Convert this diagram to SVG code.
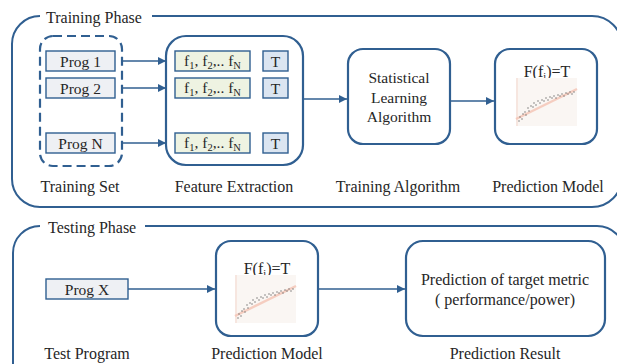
<svg xmlns="http://www.w3.org/2000/svg" width="617" height="364" viewBox="0 0 617 364">
<style>
text{font-family:'Liberation Serif','Times New Roman',serif;font-size:16px;fill:#262626}
.in{font-size:15.5px}
.mid{text-anchor:middle}
.phase{fill:none;stroke:#305f91;stroke-width:2}
.big{fill:#fff;stroke:#305f91;stroke-width:2.2}
.prog{fill:#eef0f4;stroke:#305f91;stroke-width:1.4}
.feat{fill:#eef3e2;stroke:#305f91;stroke-width:1.4}
.tbox{fill:#dbe5f1;stroke:#305f91;stroke-width:1.4}
.conn{fill:none;stroke:#305f91;stroke-width:1.6}
.sub{font-size:10.5px}
</style>
<defs>
<marker id="ah" viewBox="0 0 10 10" refX="10" refY="5" markerWidth="5" markerHeight="5" orient="auto" markerUnits="strokeWidth">
<path d="M0,0 L10,5 L0,10 z" fill="#305f91"/>
</marker>
<g id="chart">
<rect x="0" y="0" width="61" height="48" fill="#faf6f3"/>
<line x1="1" y1="0" x2="1" y2="48" stroke="#f3d6cc" stroke-width="1"/>
<line x1="0" y1="41" x2="61" y2="11" stroke="#f5c4b4" stroke-width="2.5" opacity="0.8"/>
<g fill="#666">
<circle cx="3" cy="43" r="0.7"/><circle cx="4" cy="39" r="0.7"/><circle cx="6" cy="41" r="0.7"/><circle cx="7" cy="36" r="0.7"/><circle cx="9" cy="34" r="0.7"/><circle cx="10" cy="37" r="0.7"/><circle cx="12" cy="30" r="0.7"/><circle cx="13" cy="33" r="0.7"/><circle cx="15" cy="28" r="0.7"/><circle cx="17" cy="29" r="0.7"/><circle cx="18" cy="25" r="0.7"/><circle cx="20" cy="27" r="0.7"/><circle cx="22" cy="23" r="0.7"/><circle cx="24" cy="25" r="0.7"/><circle cx="26" cy="22" r="0.7"/><circle cx="28" cy="23" r="0.7"/><circle cx="30" cy="20" r="0.7"/><circle cx="32" cy="22" r="0.7"/><circle cx="34" cy="19" r="0.7"/><circle cx="36" cy="20" r="0.7"/><circle cx="38" cy="18" r="0.7"/><circle cx="40" cy="20" r="0.7"/><circle cx="42" cy="17" r="0.7"/><circle cx="44" cy="18" r="0.7"/><circle cx="46" cy="16" r="0.7"/><circle cx="48" cy="18" r="0.7"/><circle cx="50" cy="15" r="0.7"/><circle cx="52" cy="16" r="0.7"/><circle cx="54" cy="14" r="0.7"/><circle cx="56" cy="16" r="0.7"/><circle cx="58" cy="14" r="0.7"/>
</g>
</g>
</defs>

<g id="training-phase">
<path class="phase" d="M40,16 A28,28 0 0 0 12,44 V179 A28,28 0 0 0 40,207 H592 A30,30 0 0 0 622,177 V46 A30,30 0 0 0 592,16 H152"/>
<text x="46" y="23">Training Phase</text>
</g>

<g id="testing-phase">
<path class="phase" d="M40,226 A27,27 0 0 0 13,253 V380 M145,226 H597 A28,28 0 0 1 625,254 V380"/>
<text x="48" y="233">Testing Phase</text>
</g>

<g id="training-set">
<rect x="40" y="36" width="82" height="130" rx="13" fill="none" stroke="#305f91" stroke-width="2.2" stroke-dasharray="9,5"/>
<rect class="prog" x="46" y="51" width="69" height="20"/>
<text class="mid in" x="80.5" y="66.5">Prog 1</text>
<rect class="prog" x="46" y="78" width="69" height="20"/>
<text class="mid in" x="80.5" y="93.5">Prog 2</text>
<rect class="prog" x="46" y="133" width="69" height="20"/>
<text class="mid in" x="80.5" y="148.5">Prog N</text>
<text class="mid" x="80" y="192">Training Set</text>
</g>

<g id="feature-extraction">
<rect class="big" x="166" y="36" width="137" height="129" rx="20"/>
<rect class="feat" x="175" y="51" width="75" height="20"/>
<text class="mid in" x="212.5" y="66">f<tspan class="sub" dy="3">1</tspan><tspan dy="-3">, f</tspan><tspan class="sub" dy="3">2</tspan><tspan dy="-3">,.. f</tspan><tspan class="sub" dy="3">N</tspan></text>
<rect class="tbox" x="263" y="51" width="25" height="20"/>
<text class="mid in" x="275.5" y="66.5">T</text>
<rect class="feat" x="175" y="78" width="75" height="20"/>
<text class="mid in" x="212.5" y="93">f<tspan class="sub" dy="3">1</tspan><tspan dy="-3">, f</tspan><tspan class="sub" dy="3">2</tspan><tspan dy="-3">,.. f</tspan><tspan class="sub" dy="3">N</tspan></text>
<rect class="tbox" x="263" y="78" width="25" height="20"/>
<text class="mid in" x="275.5" y="93.5">T</text>
<rect class="feat" x="175" y="133" width="75" height="20"/>
<text class="mid in" x="212.5" y="148">f<tspan class="sub" dy="3">1</tspan><tspan dy="-3">, f</tspan><tspan class="sub" dy="3">2</tspan><tspan dy="-3">,.. f</tspan><tspan class="sub" dy="3">N</tspan></text>
<rect class="tbox" x="263" y="133" width="25" height="20"/>
<text class="mid in" x="275.5" y="148.5">T</text>
<text class="mid" x="234" y="192">Feature Extraction</text>
</g>

<g id="training-algorithm">
<rect class="big" x="348" y="49" width="102" height="95" rx="15"/>
<text class="mid in" x="399" y="83">Statistical</text>
<text class="mid in" x="399" y="102.5">Learning</text>
<text class="mid in" x="399" y="122">Algorithm</text>
<text class="mid" x="398" y="192">Training Algorithm</text>
</g>

<g id="prediction-model-train">
<rect class="big" x="495" y="49" width="102" height="95" rx="15"/>
<text class="mid" x="547" y="77">F(f<tspan class="sub" dy="3">i</tspan><tspan dy="-3">)=T</tspan></text>
<use href="#chart" x="516" y="78"/>
<text class="mid" x="548" y="192">Prediction Model</text>
</g>

<g id="test-program">
<rect class="prog" x="46" y="279" width="82" height="20"/>
<text class="mid in" x="87" y="294.5">Prog X</text>
<text class="mid" x="87" y="359">Test Program</text>
</g>

<g id="prediction-model-test">
<rect class="big" x="216" y="241" width="102" height="95" rx="15"/>
<text class="mid" x="267" y="274">F(f<tspan class="sub" dy="3">i</tspan><tspan dy="-3">)=T</tspan></text>
<use href="#chart" x="235" y="275"/>
<text class="mid" x="267" y="359">Prediction Model</text>
</g>

<g id="prediction-result">
<rect class="big" x="406" y="241" width="199" height="95" rx="17"/>
<text class="mid" x="505" y="285">Prediction of target metric</text>
<text class="mid" x="505" y="305">( performance/power)</text>
<text class="mid" x="505" y="359">Prediction Result</text>
</g>

<g id="connectors">
<line class="conn" x1="122" y1="61" x2="166" y2="61" marker-end="url(#ah)"/>
<line class="conn" x1="122" y1="88" x2="166" y2="88" marker-end="url(#ah)"/>
<line class="conn" x1="122" y1="143" x2="166" y2="143" marker-end="url(#ah)"/>
<line class="conn" x1="303" y1="99" x2="347" y2="99" marker-end="url(#ah)"/>
<line class="conn" x1="450" y1="101" x2="494" y2="101" marker-end="url(#ah)"/>
<line class="conn" x1="128" y1="289" x2="215" y2="289" marker-end="url(#ah)"/>
<line class="conn" x1="318" y1="289" x2="405" y2="289" marker-end="url(#ah)"/>
</g>
</svg>
